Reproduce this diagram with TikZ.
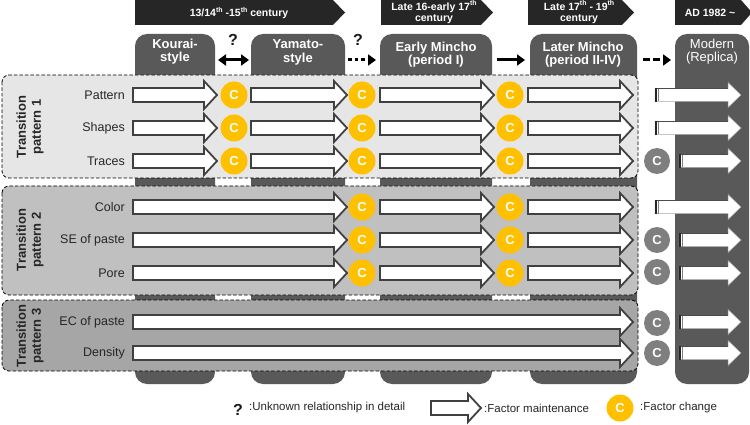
\documentclass[tikz,border=0pt]{standalone}
\usepackage{fontspec}
\setmainfont{Liberation Sans}
\usetikzlibrary{arrows.meta}
\definecolor{colgray}{HTML}{595959}
\definecolor{bannercol}{HTML}{262626}
\definecolor{pone}{HTML}{E6E6E6}
\definecolor{ptwo}{HTML}{C0C0C0}
\definecolor{pthree}{HTML}{A6A6A6}
\definecolor{arrline}{HTML}{404040}
\definecolor{cyellow}{HTML}{FFC000}
\definecolor{cgray}{HTML}{7F7F7F}
\tikzset{
  blockstyle/.style={draw=arrline, line width=1.8pt, fill=white, line join=miter},
  modstyle/.style={draw=gray!70, line width=0.5pt, fill=white},
  panelstyle/.style={draw=black, dashed, dash pattern=on 3.5pt off 2pt, line width=0.8pt, rounded corners=7pt},
  colstyle/.style={fill=colgray, rounded corners=12pt},
  bannerstyle/.style={fill=bannercol},
  bannertext/.style={text=white, font=\bfseries\fontsize{10.5}{10.5}\selectfont, align=center, inner sep=0pt},
  headtext/.style={text=white, font=\bfseries\fontsize{13}{13.5}\selectfont, align=center, inner sep=0pt},
  rowlabel/.style={font=\fontsize{12.5}{14}\selectfont, anchor=east, inner sep=0pt, text=black!85},
  translabel/.style={font=\bfseries\fontsize{13}{15}\selectfont, align=center, rotate=90, inner sep=0pt, text=black!85},
  cy/.style={circle, fill=cyellow, minimum size=27pt, inner sep=0pt, text=white, font=\bfseries\fontsize{13}{13}\selectfont},
  cg/.style={circle, fill=cgray, minimum size=26pt, inner sep=0pt, text=white, font=\bfseries\fontsize{13}{13}\selectfont},
  qmark/.style={font=\bfseries\fontsize{16}{16}\selectfont, inner sep=0pt, text=black!90},
  toparrow/.style={line width=3pt, -{Triangle[length=8pt,width=11pt]}},
  legtext/.style={font=\fontsize{11.5}{12}\selectfont, anchor=west, inner sep=0pt, text=black!85}
}
\newcommand\supth{\raisebox{0.45em}{\fontsize{7}{7}\selectfont th}}
% name, x1, x2, y
\newcommand\blockarr[4]{%
  \draw[blockstyle] (#2,#4-7) -- (#3-13,#4-7) -- (#3-13,#4-14) -- (#3,#4) -- (#3-13,#4+14) -- (#3-13,#4+7) -- (#2,#4+7) -- cycle;
  \coordinate (#1) at (#3,#4);
}
% name, x1, y
\newcommand\modarr[3]{%
  \draw[modstyle] (#2,#3-6.5) -- (728,#3-6.5) -- (728,#3-12.5) -- (741,#3) -- (728,#3+12.5) -- (728,#3+6.5) -- (#2,#3+6.5) -- cycle;
  \fill[black!85] (#2,#3-7) rectangle (#2+2,#3+7);
  \draw[gray, line width=0.6pt] (#2+3.2,#3-6.5) -- (#2+3.2,#3+6.5);
  \draw[black!70, line width=0.8pt] (#2+2,#3-6.5) -- (728,#3-6.5);
  \coordinate (#1) at (741,#3);
}
\begin{document}
\begin{tikzpicture}[x=1pt, y=-1pt]
\useasboundingbox (0,0) rectangle (750,425);
% banners
\fill[bannerstyle] (135,0) -- (333,0) -- (345,12.5) -- (333,25) -- (135,25) -- cycle;
\fill[bannerstyle] (381,0) -- (481,0) -- (493,12.5) -- (481,25) -- (381,25) -- cycle;
\fill[bannerstyle] (528,0) -- (622,0) -- (634,12.5) -- (622,25) -- (528,25) -- cycle;
\fill[bannerstyle] (675,0) -- (741,0) -- (752,12.5) -- (741,25) -- (675,25) -- cycle;
\node[bannertext] (b1) at (239,13) {13/14\supth{} -15\supth{} century};
\node[bannertext] (b2) at (434,12) {Late 16-early 17\supth\\century};
\node[bannertext] (b3) at (579,12) {Late 17\supth{} - 19\supth\\century};
\node[bannertext] (b4) at (710,13) {AD 1982 \char`\~};
% columns
\fill[colstyle] (135,34) rectangle (215,384);
\fill[colstyle] (251,34) rectangle (345,384);
\fill[colstyle] (380,34) rectangle (492,384);
\fill[colstyle] (530,34) rectangle (637,384);
\fill[colstyle] (675,34) rectangle (749,384);
\node[headtext] (hk) at (175,51.5) {Kourai-\\style};
\node[headtext] (hy) at (298,52.5) {Yamato-\\style};
\node[headtext] (he) at (436,54.5) {Early Mincho\\(period I)};
\node[headtext] (hl) at (583,54.5) {Later Mincho\\(period II-IV)};
\node[headtext, font=\fontsize{13}{13.5}\selectfont] (hm) at (712,51.5) {Modern\\(Replica)};
% top connectors
\coordinate (t1a) at (218,60); \coordinate (t1b) at (249,60);
\coordinate (t2a) at (348,60); \coordinate (t2b) at (376,60);
\coordinate (t3a) at (497,60); \coordinate (t3b) at (525,60);
\coordinate (t4a) at (643,60); \coordinate (t4b) at (671,60);
\draw[line width=3pt, {Triangle[length=8pt,width=11pt]}-{Triangle[length=8pt,width=11pt]}] (t1a) -- (t1b);
\draw[toparrow, dash pattern=on 3.5pt off 3pt] (t2a) -- (t2b);
\draw[toparrow] (t3a) -- (t3b);
\draw[toparrow, dash pattern=on 7pt off 3pt] (t4a) -- (t4b);
\node[qmark] (q1) at (233,40) {?};
\node[qmark] (q2) at (358,40) {?};
% panels
\draw[panelstyle, fill=pone] (2,75) rectangle (638,178);
\draw[panelstyle, fill=ptwo] (2,186) rectangle (638,295);
\draw[panelstyle, fill=pthree] (2,300) rectangle (638,371);
\node[translabel] (tp1) at (30,127) {Transition\\pattern 1};
\node[translabel] (tp2) at (30,240) {Transition\\pattern 2};
\node[translabel] (tp3) at (30,336) {Transition\\pattern 3};
% row labels
\node[rowlabel] (lpat) at (125,95) {Pattern};
\node[rowlabel] (lsha) at (125,128) {Shapes};
\node[rowlabel] (ltra) at (125,161) {Traces};
\node[rowlabel] (lcol) at (125,207) {Color};
\node[rowlabel] (lse) at (125,240) {SE of paste};
\node[rowlabel] (lpor) at (125,273) {Pore};
\node[rowlabel] (lec) at (125,322) {EC of paste};
\node[rowlabel] (lden) at (125,353) {Density};
% pattern 1 arrows
\foreach \y/\n in {95/a,128/b,161/c}{
  \blockarr{\n1}{133}{217}{\y}
  \blockarr{\n2}{251}{347}{\y}
  \blockarr{\n3}{380}{494}{\y}
  \blockarr{\n4}{528}{633}{\y}
  \node[cy] (\n c1) at (234,\y) {C};
  \node[cy] (\n c2) at (362,\y) {C};
  \node[cy] (\n c3) at (510,\y) {C};
}
% pattern 2 arrows
\foreach \y/\n in {207/d,240/e,273/f}{
  \blockarr{\n1}{133}{347}{\y}
  \blockarr{\n3}{380}{494}{\y}
  \blockarr{\n4}{528}{633}{\y}
  \node[cy] (\n c2) at (362,\y) {C};
  \node[cy] (\n c3) at (510,\y) {C};
}
% pattern 3 arrows
\blockarr{g1}{133}{633}{322}
\blockarr{h1}{133}{633}{353}
% modern
\modarr{ma}{655}{95}
\modarr{mb}{655}{128}
\modarr{mc}{679}{161}
\modarr{md}{655}{207}
\modarr{me}{679}{240}
\modarr{mf}{679}{273}
\modarr{mg}{679}{322}
\modarr{mh}{679}{353}
\node[cg] (gc) at (657,161) {C};
\node[cg] (ge) at (657,240) {C};
\node[cg] (gf) at (657,272) {C};
\node[cg] (gg) at (657,323) {C};
\node[cg] (gh) at (657,353) {C};
% legend
\node[qmark] (lq) at (238,410) {?};
\node[legtext] (lqt) at (249,408) {:Unknown relationship in detail};
\blockarr{legarr}{431}{481}{408}
\node[legtext] (lat) at (484,408) {:Factor maintenance};
\node[cy] (lc) at (620,408) {C};
\node[legtext] (lct) at (640,408) {:Factor change};
\end{tikzpicture}
\end{document}
